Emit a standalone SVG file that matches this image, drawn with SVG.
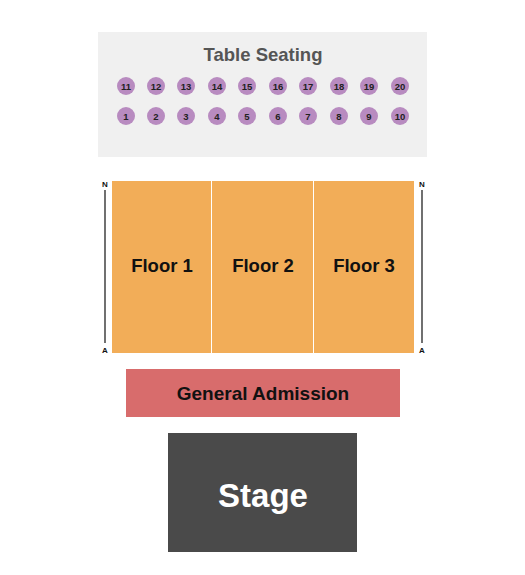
<svg xmlns="http://www.w3.org/2000/svg" width="525" height="575" viewBox="0 0 525 575">
<style>
.t{font-family:"Liberation Sans",Arial,sans-serif;font-weight:bold;text-anchor:middle}
.tb{fill:#b88bc0}
.tn{font-size:9.5px;fill:#222}
.fl{fill:#f2ad58}
.fn{font-size:18.5px;fill:#111}
.na{font-size:8px;fill:#111}
</style>
<rect width="525" height="575" fill="#fff"/>
<g id="table-seating">
<rect x="98" y="32" width="329" height="125" fill="#f0f0f0"/>
<text class="t" x="263" y="61" font-size="18.5" fill="#555">Table Seating</text>
<g id="tables">
<circle class="tb" cx="126" cy="86" r="9"/><text class="t tn" x="126" y="89.5">11</text>
<circle class="tb" cx="156" cy="86" r="9"/><text class="t tn" x="156" y="89.5">12</text>
<circle class="tb" cx="186" cy="86" r="9"/><text class="t tn" x="186" y="89.5">13</text>
<circle class="tb" cx="217" cy="86" r="9"/><text class="t tn" x="217" y="89.5">14</text>
<circle class="tb" cx="247" cy="86" r="9"/><text class="t tn" x="247" y="89.5">15</text>
<circle class="tb" cx="278" cy="86" r="9"/><text class="t tn" x="278" y="89.5">16</text>
<circle class="tb" cx="308" cy="86" r="9"/><text class="t tn" x="308" y="89.5">17</text>
<circle class="tb" cx="339" cy="86" r="9"/><text class="t tn" x="339" y="89.5">18</text>
<circle class="tb" cx="369" cy="86" r="9"/><text class="t tn" x="369" y="89.5">19</text>
<circle class="tb" cx="400" cy="86" r="9"/><text class="t tn" x="400" y="89.5">20</text>
<circle class="tb" cx="126" cy="116" r="9"/><text class="t tn" x="126" y="119.5">1</text>
<circle class="tb" cx="156" cy="116" r="9"/><text class="t tn" x="156" y="119.5">2</text>
<circle class="tb" cx="186" cy="116" r="9"/><text class="t tn" x="186" y="119.5">3</text>
<circle class="tb" cx="217" cy="116" r="9"/><text class="t tn" x="217" y="119.5">4</text>
<circle class="tb" cx="247" cy="116" r="9"/><text class="t tn" x="247" y="119.5">5</text>
<circle class="tb" cx="278" cy="116" r="9"/><text class="t tn" x="278" y="119.5">6</text>
<circle class="tb" cx="308" cy="116" r="9"/><text class="t tn" x="308" y="119.5">7</text>
<circle class="tb" cx="339" cy="116" r="9"/><text class="t tn" x="339" y="119.5">8</text>
<circle class="tb" cx="369" cy="116" r="9"/><text class="t tn" x="369" y="119.5">9</text>
<circle class="tb" cx="400" cy="116" r="9"/><text class="t tn" x="400" y="119.5">10</text>
</g>
</g>
<g id="floor-1"><rect class="fl" x="112" y="181" width="99" height="172"/><text class="t fn" x="162" y="272">Floor 1</text></g>
<g id="floor-2"><rect class="fl" x="212" y="181" width="101" height="172"/><text class="t fn" x="263" y="272">Floor 2</text></g>
<g id="floor-3"><rect class="fl" x="314" y="181" width="100" height="172"/><text class="t fn" x="364" y="272">Floor 3</text></g>
<g id="row-markers">
<line x1="105" y1="190" x2="105" y2="343" stroke="#111" stroke-width="1.2"/>
<line x1="422" y1="190" x2="422" y2="343" stroke="#111" stroke-width="1.2"/>
<text class="t na" x="105" y="187">N</text>
<text class="t na" x="105" y="353">A</text>
<text class="t na" x="422" y="187">N</text>
<text class="t na" x="422" y="353">A</text>
</g>
<g id="general-admission"><rect x="126" y="369" width="274" height="48" fill="#d86c6c"/><text class="t" x="263" y="400" font-size="19" fill="#111">General Admission</text></g>
<g id="stage"><rect x="168" y="433" width="189" height="119" fill="#4a4a4a"/><text class="t" x="263" y="507" font-size="33" fill="#fff">Stage</text></g>
</svg>
